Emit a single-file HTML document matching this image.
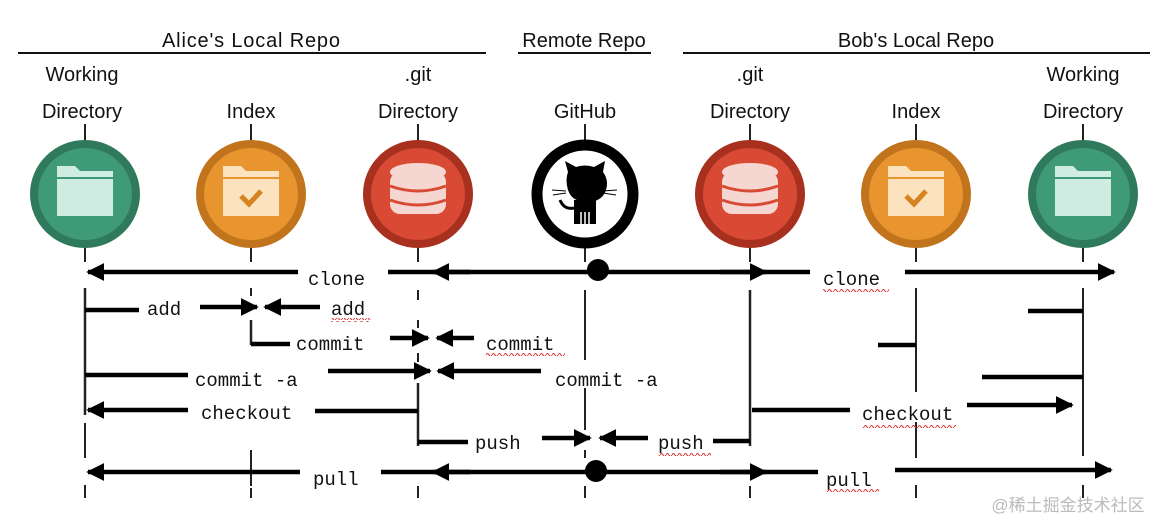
<!DOCTYPE html>
<html><head><meta charset="utf-8"><style>
html,body{margin:0;padding:0;background:#fff;width:1168px;height:531px;overflow:hidden}
svg{display:block}
.h{font-family:"Liberation Sans",sans-serif;font-size:20px;fill:#111}
.m{font-family:"Liberation Mono",monospace;font-size:19px;fill:#111}
.w{stroke:#d33;stroke-width:1.2;fill:none}
</style></head><body>
<svg width="1168" height="531" viewBox="0 0 1168 531" xmlns="http://www.w3.org/2000/svg">
<defs>
<marker id="ar" viewBox="0 0 10 10" refX="9" refY="5" markerWidth="4" markerHeight="4" orient="auto-start-reverse" markerUnits="strokeWidth"><path d="M0,0 L10,5 L0,10 z" fill="#000"/></marker>
<pattern id="wv" width="6" height="4" patternUnits="userSpaceOnUse"><path d="M0,3 Q1.5,0 3,3 T6,3" stroke="#d33" stroke-width="1.1" fill="none"/></pattern>
</defs>
<!-- headers -->
<text class="h" x="251" y="47" text-anchor="middle" textLength="178">Alice's Local Repo</text>
<text class="h" x="584" y="47" text-anchor="middle">Remote Repo</text>
<text class="h" x="916" y="47" text-anchor="middle">Bob's Local Repo</text>
<g stroke="#111" stroke-width="2"><line x1="18" y1="53" x2="486" y2="53"/><line x1="518" y1="53" x2="651" y2="53"/><line x1="683" y1="53" x2="1150" y2="53"/></g>
<g class="h" text-anchor="middle">
<text x="82" y="81">Working</text><text x="82" y="118">Directory</text>
<text x="251" y="118">Index</text>
<text x="418" y="81">.git</text><text x="418" y="118">Directory</text>
<text x="585" y="118">GitHub</text>
<text x="750" y="81">.git</text><text x="750" y="118">Directory</text>
<text x="916" y="118">Index</text>
<text x="1083" y="81">Working</text><text x="1083" y="118">Directory</text>
</g>
<!-- vertical lines -->
<g stroke="#222" stroke-width="2">
<line x1="85" y1="124" x2="85" y2="142"/><line x1="251" y1="124" x2="251" y2="142"/><line x1="418" y1="124" x2="418" y2="142"/><line x1="585" y1="124" x2="585" y2="142"/><line x1="750" y1="124" x2="750" y2="142"/><line x1="916" y1="124" x2="916" y2="142"/><line x1="1083" y1="124" x2="1083" y2="142"/>
<line x1="85" y1="248" x2="85" y2="262"/><line x1="251" y1="248" x2="251" y2="262"/><line x1="418" y1="248" x2="418" y2="262"/><line x1="585" y1="248" x2="585" y2="262"/><line x1="750" y1="248" x2="750" y2="262"/><line x1="916" y1="248" x2="916" y2="262"/><line x1="1083" y1="248" x2="1083" y2="262"/>
<line x1="85" y1="288" x2="85" y2="415" stroke-width="2.5"/><line x1="85" y1="423" x2="85" y2="458"/><line x1="85" y1="485" x2="85" y2="498"/>
<line x1="251" y1="288" x2="251" y2="296"/><line x1="251" y1="320" x2="251" y2="345" stroke-width="2.5"/><line x1="251" y1="450" x2="251" y2="486"/><line x1="251" y1="488" x2="251" y2="498"/>
<line x1="418" y1="290" x2="418" y2="300"/><line x1="418" y1="320" x2="418" y2="328"/><line x1="418" y1="353" x2="418" y2="362"/><line x1="418" y1="383" x2="418" y2="446" stroke-width="2.5"/><line x1="418" y1="486" x2="418" y2="498"/>
<line x1="585" y1="290" x2="585" y2="360"/><line x1="585" y1="388" x2="585" y2="430"/><line x1="585" y1="450" x2="585" y2="458"/><line x1="585" y1="486" x2="585" y2="498"/>
<line x1="750" y1="290" x2="750" y2="446" stroke-width="2.5"/><line x1="750" y1="486" x2="750" y2="498"/>
<line x1="916" y1="288" x2="916" y2="392"/><line x1="916" y1="422" x2="916" y2="458"/><line x1="916" y1="485" x2="916" y2="498"/>
<line x1="1083" y1="288" x2="1083" y2="456"/><line x1="1083" y1="485" x2="1083" y2="498"/>
</g>
<!-- circles -->
<g>
<ellipse cx="85" cy="194" rx="55" ry="54" fill="#2f7a5d"/><ellipse cx="85" cy="194" rx="47" ry="46" fill="#3f9a78"/>
<path d="M57,178 v-12 h18 l5,5 h33 v45 h-56 z" fill="#cfece2"/><line x1="57" y1="178" x2="113" y2="178" stroke="#3f9a78" stroke-width="2"/>
<ellipse cx="251" cy="194" rx="55" ry="54" fill="#c2741c"/><ellipse cx="251" cy="194" rx="47" ry="46" fill="#e8952f"/>
<path d="M223,178 v-12 h18 l5,5 h33 v45 h-56 z" fill="#fbe3c0"/><line x1="223" y1="178" x2="279" y2="178" stroke="#e8952f" stroke-width="2"/>
<path d="M241,196 l8,8 l12,-13" stroke="#d58420" stroke-width="5" fill="none"/>
<ellipse cx="418" cy="194" rx="55" ry="54" fill="#a7301f"/><ellipse cx="418" cy="194" rx="47" ry="46" fill="#d94a34"/>
<g fill="#f6d6d0"><ellipse cx="418" cy="172" rx="28" ry="9"/><rect x="390" y="172" width="56" height="42" rx="10"/></g>
<g stroke="#d94a34" stroke-width="3" fill="none"><path d="M390,186 q28,10 56,0"/><path d="M390,200 q28,10 56,0"/></g>
<ellipse cx="585" cy="194" rx="48" ry="49" fill="#fff" stroke="#000" stroke-width="11"/>
<path d="M568,172 l-3,-11 l11,6 q9,-3 18,0 l11,-6 l-2,11 q6,8 3,18 q-4,12 -19,12 q-15,0 -19,-12 q-3,-10 0,-18 z" fill="#000"/>
<path d="M574,200 h22 v24 h-22 z" fill="#000"/><path d="M574,208 q-10,2 -14,-8" stroke="#000" stroke-width="3" fill="none"/>
<g stroke="#fff" stroke-width="1.5"><line x1="581" y1="212" x2="581" y2="225"/><line x1="585" y1="212" x2="585" y2="225"/><line x1="589" y1="212" x2="589" y2="225"/></g>
<g stroke="#000" stroke-width="1"><line x1="552" y1="190" x2="566" y2="191"/><line x1="553" y1="195" x2="566" y2="193"/><line x1="603" y1="191" x2="617" y2="190"/><line x1="603" y1="193" x2="616" y2="195"/></g>
<ellipse cx="750" cy="194" rx="55" ry="54" fill="#a7301f"/><ellipse cx="750" cy="194" rx="47" ry="46" fill="#d94a34"/>
<g fill="#f6d6d0"><ellipse cx="750" cy="172" rx="28" ry="9"/><rect x="722" y="172" width="56" height="42" rx="10"/></g>
<g stroke="#d94a34" stroke-width="3" fill="none"><path d="M722,186 q28,10 56,0"/><path d="M722,200 q28,10 56,0"/></g>
<ellipse cx="916" cy="194" rx="55" ry="54" fill="#c2741c"/><ellipse cx="916" cy="194" rx="47" ry="46" fill="#e8952f"/>
<path d="M888,178 v-12 h18 l5,5 h33 v45 h-56 z" fill="#fbe3c0"/><line x1="888" y1="178" x2="944" y2="178" stroke="#e8952f" stroke-width="2"/>
<path d="M906,196 l8,8 l12,-13" stroke="#d58420" stroke-width="5" fill="none"/>
<ellipse cx="1083" cy="194" rx="55" ry="54" fill="#2f7a5d"/><ellipse cx="1083" cy="194" rx="47" ry="46" fill="#3f9a78"/>
<path d="M1055,178 v-12 h18 l5,5 h33 v45 h-56 z" fill="#cfece2"/><line x1="1055" y1="178" x2="1111" y2="178" stroke="#3f9a78" stroke-width="2"/>
</g>
<!-- arrows -->
<g stroke="#000" stroke-width="4.5" fill="none">
<line x1="298" y1="272" x2="88" y2="272" marker-end="url(#ar)"/>
<line x1="388" y1="272" x2="598" y2="272"/><line x1="470" y1="272" x2="433" y2="272" marker-end="url(#ar)"/>
<line x1="598" y1="272" x2="810" y2="272"/><line x1="720" y1="272" x2="766" y2="272" marker-end="url(#ar)"/>
<line x1="905" y1="272" x2="1114" y2="272" marker-end="url(#ar)"/>
<line x1="85" y1="310" x2="139" y2="310"/>
<line x1="200" y1="307" x2="257" y2="307" marker-end="url(#ar)"/>
<line x1="320" y1="307" x2="265" y2="307" marker-end="url(#ar)"/>
<line x1="251" y1="344" x2="290" y2="344"/>
<line x1="390" y1="338" x2="428" y2="338" marker-end="url(#ar)"/>
<line x1="474" y1="338" x2="437" y2="338" marker-end="url(#ar)"/>
<line x1="85" y1="375" x2="188" y2="375"/>
<line x1="328" y1="371" x2="430" y2="371" marker-end="url(#ar)"/>
<line x1="541" y1="371" x2="438" y2="371" marker-end="url(#ar)"/>
<line x1="188" y1="410" x2="88" y2="410" marker-end="url(#ar)"/>
<line x1="315" y1="411" x2="418" y2="411"/>
<line x1="418" y1="442" x2="468" y2="442"/>
<line x1="542" y1="438" x2="590" y2="438" marker-end="url(#ar)"/>
<line x1="648" y1="438" x2="600" y2="438" marker-end="url(#ar)"/>
<line x1="713" y1="441" x2="750" y2="441"/>
<line x1="300" y1="472" x2="88" y2="472" marker-end="url(#ar)"/>
<line x1="381" y1="472" x2="598" y2="472"/><line x1="470" y1="472" x2="433" y2="472" marker-end="url(#ar)"/>
<line x1="598" y1="472" x2="818" y2="472"/><line x1="720" y1="472" x2="766" y2="472" marker-end="url(#ar)"/>
<line x1="895" y1="470" x2="1111" y2="470" marker-end="url(#ar)"/>
<line x1="1028" y1="311" x2="1083" y2="311"/>
<line x1="878" y1="345" x2="916" y2="345"/>
<line x1="982" y1="377" x2="1083" y2="377"/>
<line x1="752" y1="410" x2="850" y2="410"/>
<line x1="967" y1="405" x2="1072" y2="405" marker-end="url(#ar)"/>
</g>
<circle cx="598" cy="270" r="11" fill="#000"/>
<circle cx="596" cy="471" r="11" fill="#000"/>
<!-- labels -->
<g class="m">
<text x="308" y="285">clone</text>
<text x="147" y="315">add</text>
<text x="331" y="315">add</text>
<text x="296" y="350">commit</text>
<text x="486" y="350">commit</text>
<text x="195" y="386">commit -a</text>
<text x="555" y="386">commit -a</text>
<text x="201" y="419">checkout</text>
<text x="475" y="449">push</text>
<text x="658" y="449">push</text>
<text x="313" y="485">pull</text>
<text x="823" y="285">clone</text>
<text x="862" y="420">checkout</text>
<text x="826" y="486">pull</text>
</g>
<g fill="url(#wv)">
<rect x="331" y="318" width="40" height="4"/><rect x="486" y="353" width="79" height="4"/>
<rect x="658" y="452" width="53" height="4"/><rect x="823" y="288" width="66" height="4"/>
<rect x="862" y="424" width="94" height="4"/><rect x="826" y="489" width="53" height="4"/>
</g>
<text x="1068" y="511" text-anchor="middle" style="font-family:'Liberation Sans','Noto Sans CJK SC',sans-serif;font-size:17px;fill:#bbb">@稀土掘金技术社区</text>
</svg>
</body></html>
